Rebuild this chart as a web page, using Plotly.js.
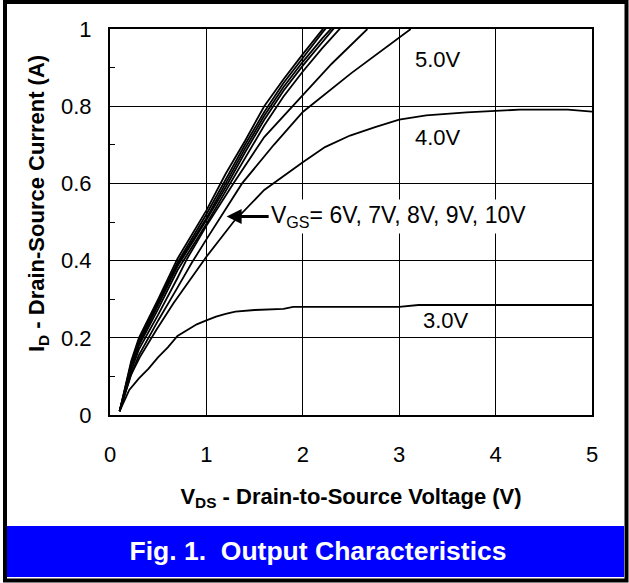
<!DOCTYPE html>
<html><head><meta charset="utf-8">
<script src="https://cdn.plot.ly/plotly-3.0.1.min.js"></script>
<style>html,body{margin:0;padding:0;background:#fff}#chart{width:629px;height:583px}</style>
</head><body><div id="chart"></div>
<script>
// ---- data (V_DS in volts, I_D in amperes) ----
const bundleVds = [0.1, 0.22, 0.3, 0.5, 0.7, 1.0, 1.2, 1.4, 1.6, 1.8, 2.0, 2.2, 2.4];
const id10V = [0.01, 0.14, 0.2, 0.3, 0.405, 0.53, 0.625, 0.71, 0.8, 0.87, 0.935, 1.0, 1.06];
const id9V  = [0.01, 0.135, 0.195, 0.295, 0.395, 0.52, 0.61, 0.70, 0.785, 0.86, 0.925, 0.99, 1.05];
const id8V  = [0.01, 0.13, 0.19, 0.29, 0.39, 0.51, 0.60, 0.69, 0.775, 0.85, 0.915, 0.975, 1.03];
const id7V  = [0.01, 0.125, 0.185, 0.285, 0.385, 0.505, 0.59, 0.68, 0.765, 0.84, 0.905, 0.965, 1.025];
const id6V  = [0.01, 0.12, 0.18, 0.275, 0.375, 0.495, 0.58, 0.665, 0.75, 0.825, 0.89, 0.95, 1.005];

const vdsA = [0.1, 0.22, 0.3, 0.5, 0.7, 0.8, 1.0, 1.28, 1.6, 2.0, 2.3, 2.67];
const idA  = [0.01, 0.115, 0.17, 0.26, 0.355, 0.405, 0.49, 0.6, 0.72, 0.83, 0.91, 1.0];

const vds5V = [0.1, 0.22, 0.3, 0.5, 0.7, 0.85, 1.0, 1.37, 1.7, 2.0, 2.5, 3.12];
const id5V  = [0.01, 0.105, 0.155, 0.245, 0.33, 0.395, 0.455, 0.6, 0.70, 0.785, 0.885, 1.0];

const vds4V = [0.1, 0.21, 0.31, 0.48, 0.66, 0.83, 1.0, 1.28, 1.6, 2.0, 2.23, 2.49, 2.75, 3.0, 3.28, 3.7, 4.0, 4.25, 4.75, 5.0];
const id4V  = [0.01, 0.1, 0.15, 0.22, 0.29, 0.35, 0.41, 0.5, 0.583, 0.655, 0.694, 0.724, 0.746, 0.765, 0.776, 0.784, 0.787, 0.791, 0.791, 0.786];

const vds3V = [0.1, 0.2, 0.3, 0.4, 0.5, 0.6, 0.7, 0.8, 0.9, 1.0, 1.1, 1.2, 1.3, 1.5, 1.8, 1.9, 2.5, 3.0, 3.2, 4.0, 5.0];
const id3V  = [0.01, 0.065, 0.095, 0.12, 0.15, 0.175, 0.205, 0.22, 0.235, 0.245, 0.255, 0.262, 0.268, 0.272, 0.275, 0.28, 0.28, 0.28, 0.285, 0.285, 0.285];

const xTickVals = [0, 1, 2, 3, 4, 5];
const yTickVals = [0, 0.2, 0.4, 0.6, 0.8, 1];
const yTickText = ['0', '0.2', '0.4', '0.6', '0.8', '1'];
const curveLabels = ['5.0V', '4.0V', '3.0V'];
const vgsLabel = 'V<sub>GS</sub>= 6V, 7V, 8V, 9V, 10V';

// ---- drawing ----
const FONT = 'Liberation Sans, Arial, sans-serif';
const line = {color: 'black', width: 1.8};
function tr(x, y, name) { return {x: x, y: y, name: name, type: 'scatter', mode: 'lines', line: line, hoverinfo: 'skip'}; }
const traces = [
  tr(bundleVds, id10V, '10V'), tr(bundleVds, id9V, '9V'), tr(bundleVds, id8V, '8V'),
  tr(bundleVds, id7V, '7V'), tr(bundleVds, id6V, '6V'),
  tr(vdsA, idA, 'unlabeled'), tr(vds5V, id5V, '5.0V'),
  tr(vds4V, id4V, '4.0V'), tr(vds3V, id3V, '3.0V')
];

// plot area in pixels: x 110..592, y 29..415
const PL = 110, PW = 482, PB = 415, PH = 386;
const px = v => (v - PL) / PW;
const py = v => (PB - v) / PH;

const layout = {
  width: 629, height: 583,
  margin: {l: 110, r: 37, t: 29, b: 168, pad: 0},
  paper_bgcolor: 'white', plot_bgcolor: 'white',
  showlegend: false,
  font: {family: FONT, size: 22, color: 'black'},
  title: {text: 'Fig. 1.\u00a0 Output Characteristics', font: {family: FONT, size: 26.5, color: 'white', weight: 'bold'},
          xref: 'container', yref: 'container', x: 318 / 629, xanchor: 'center', y: 1 - 551 / 583, yanchor: 'middle'},
  xaxis: {
    range: [0, 5], tickvals: xTickVals, ticktext: xTickVals.map(String),
    showgrid: true, gridcolor: 'black', gridwidth: 1, zeroline: false,
    showline: true, linecolor: 'black', linewidth: 2, mirror: true, ticks: '',
    tickfont: {family: FONT, size: 22, color: 'black'}, ticklabelstandoff: 19,
    title: {text: 'V<sub>DS</sub> - Drain-to-Source Voltage (V)', font: {family: FONT, size: 22, color: 'black', weight: 'bold'}, standoff: 22}
  },
  yaxis: {
    range: [0, 1], tickvals: yTickVals, ticktext: yTickText,
    showgrid: true, gridcolor: 'black', gridwidth: 1, zeroline: false,
    showline: true, linecolor: 'black', linewidth: 2, mirror: true, ticks: '',
    tickfont: {family: FONT, size: 22, color: 'black'}, ticklabelstandoff: 12,
    minor: {tickvals: [0.1, 0.3, 0.5, 0.7, 0.9], ticks: 'inside', ticklen: 5, tickcolor: 'black', tickwidth: 1, showgrid: false}
  },
  shapes: [
    {type: 'rect', xref: 'paper', yref: 'paper', layer: 'below',
     x0: px(7), x1: px(624), y0: py(577), y1: py(526), fillcolor: 'rgb(0,0,255)', line: {width: 0}},
    {type: 'rect', xref: 'paper', yref: 'paper', layer: 'above',
     x0: px(5), x1: px(626.5), y0: py(580.5), y1: py(2), fillcolor: 'rgba(0,0,0,0)', line: {color: 'black', width: 4}}
  ],
  annotations: [
    {xref: 'paper', yref: 'paper', x: px(38), y: py(204), text: 'I<sub>D</sub> - Drain-Source Current (A)', textangle: -90,
     showarrow: false, xanchor: 'center', yanchor: 'middle', font: {family: FONT, size: 22, color: 'black', weight: 'bold'}},
    {x: 3.40, y: 0.921, text: curveLabels[0], showarrow: false, font: {family: FONT, size: 22}},
    {x: 3.40, y: 0.719, text: curveLabels[1], showarrow: false, font: {family: FONT, size: 22}},
    {x: 3.49, y: 0.244, text: curveLabels[2], showarrow: false, font: {family: FONT, size: 22}},
    {x: 1.21, y: 0.514, text: vgsLabel, showarrow: true, ax: 172, ay: 0, xanchor: 'center', yanchor: 'middle',
     arrowhead: 2, arrowsize: 1, arrowwidth: 3, arrowcolor: 'black',
     bgcolor: 'white', borderpad: 2, font: {family: FONT, size: 23}}
  ]
};

Plotly.newPlot('chart', traces, layout, {displayModeBar: false, staticPlot: true});
</script></body></html>
